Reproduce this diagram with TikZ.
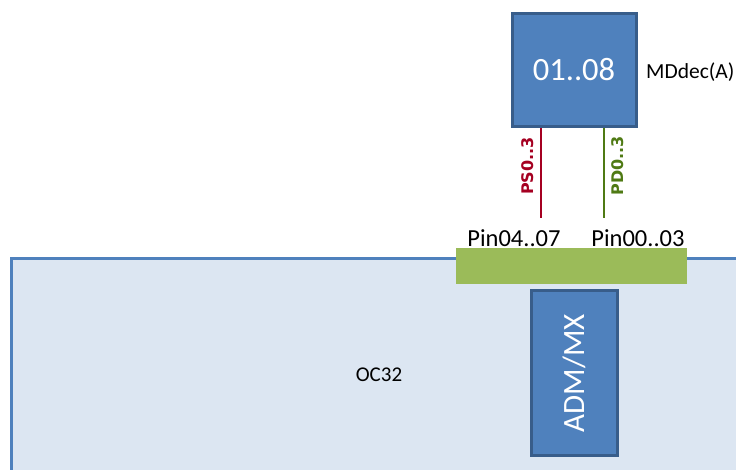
\documentclass[tikz,border=0pt]{standalone}
\usepackage{fontspec}
\setmainfont{Carlito}
\newfontfamily\pinfont{DejaVu Sans}
\usetikzlibrary{calc}

\definecolor{boxblue}{RGB}{79,129,189}
\definecolor{boxedge}{RGB}{56,93,138}
\definecolor{boardfill}{RGB}{220,230,242}
\definecolor{bargreen}{RGB}{155,187,89}
\definecolor{psred}{RGB}{165,0,33}
\definecolor{pdgreen}{RGB}{79,122,20}

\tikzset{
  chip/.style={draw=boxedge,line width=3pt,fill=boxblue,text=white,inner sep=0pt},
  sig/.style={font=\pinfont\bfseries\fontsize{16}{16}\selectfont,rotate=90,inner sep=0pt},
  lbl/.style={font=\fontsize{24.5}{24.5}\selectfont,inner sep=0pt}
}

\begin{document}
\begin{tikzpicture}[x=1pt,y=-1pt]
\useasboundingbox (0,0) rectangle (736,470);
\clip (0,0) rectangle (736,470);

% carrier board
\draw[draw=boxblue,line width=3pt,fill=boardfill] (11,259) rectangle (760,490);
\node[font=\fontsize{21}{21}\selectfont] (board) at (379,375) {OC32};

% connector strip and its pin groups
\node[fill=bargreen,minimum width=231pt,minimum height=36pt,inner sep=0pt] (pins) at (571.5,266) {};
\node[lbl] (pinhi) at (514,238) {Pin04..07};
\node[lbl] (pinlo) at (638,238) {Pin00..03};

% module on the board
\node[chip,minimum width=86pt,minimum height=165pt] (adm) at (574,373) {};
\node[rotate=90,text=white,font=\fontsize{31}{31}\selectfont] at (adm.center) {ADM/MX};

% decoder module
\node[chip,minimum width=124pt,minimum height=113pt,font=\fontsize{32.5}{32.5}\selectfont] (dec) at (574,70) {01..08};
\node[font=\fontsize{21.5}{21.5}\selectfont,anchor=west,inner sep=0pt] (decname) at (646,72) {MDdec(A)};

% signal lines
\coordinate (ps) at (541,218);
\coordinate (pd) at (604,218);
\draw[psred,line width=2pt] (ps |- dec.south) -- (ps);
\draw[pdgreen,line width=2pt] (pd |- dec.south) -- (pd);
\node[sig,text=psred] (pslbl) at (528,166) {PS0..3};
\node[sig,text=pdgreen] (pdlbl) at (618,166) {PD0..3};
\end{tikzpicture}
\end{document}
